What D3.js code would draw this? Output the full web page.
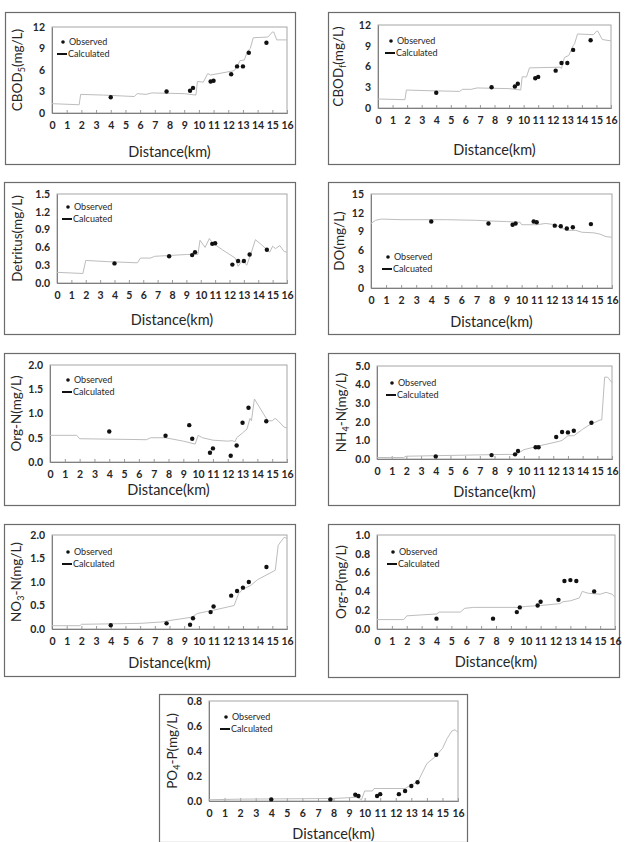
<!DOCTYPE html>
<html>
<head>
<meta charset="utf-8">
<script src="https://cdn.jsdelivr.net/npm/d3@7"></script>
<style>
  body { margin: 0; background: #fff; }
  svg { display: block; }
  text { font-family: Lato, "Open Sans", sans-serif; fill: #262626; }
</style>
</head>
<body>
<div id="fig"></div>
<script>
// Distancias de las estaciones observadas (km)
const OBS_X = [4.0, 7.8, 9.4, 9.6, 10.8, 11.0, 12.2, 12.6, 13.0, 13.4, 14.6];
const X_TICKS = d3.range(0, 17);

// Valores observados
const OBS_CBOD5 = [2.2, 3.0, 3.1, 3.5, 4.4, 4.5, 5.4, 6.5, 6.5, 8.4, 9.8];
const OBS_CBODF = [2.2, 3.0, 3.1, 3.5, 4.3, 4.5, 5.4, 6.5, 6.5, 8.4, 9.8];
const OBS_DETRITUS = [0.33, 0.45, 0.47, 0.52, 0.66, 0.67, 0.31, 0.37, 0.37, 0.48, 0.56];
const OBS_DO = [10.6, 10.3, 10.1, 10.3, 10.6, 10.5, 9.95, 9.85, 9.5, 9.7, 10.2];
const OBS_ORGN = [0.63, 0.54, 0.76, 0.48, 0.19, 0.28, 0.13, 0.34, 0.81, 1.12, 0.84];
const OBS_NH4 = [0.14, 0.21, 0.25, 0.43, 0.63, 0.63, 1.18, 1.45, 1.43, 1.52, 1.95];
const OBS_NO3 = [0.08, 0.12, 0.09, 0.23, 0.36, 0.48, 0.71, 0.81, 0.88, 1.0, 1.32];
const OBS_ORGP = [0.11, 0.11, 0.18, 0.23, 0.25, 0.29, 0.31, 0.51, 0.52, 0.51, 0.40];
const OBS_PO4 = [0.013, 0.013, 0.05, 0.04, 0.04, 0.055, 0.055, 0.08, 0.12, 0.15, 0.37];

// Valores calculados [distancia, valor]
const CALC_CBOD5 = [[0,1.3],[1.85,1.15],[1.95,2.6],[3.5,2.5],[5.6,2.3],[5.8,2.7],[6.4,2.6],[6.8,2.8],[9.0,2.7],[9.8,2.5],[9.9,4.4],[10.3,4.3],[10.6,5.5],[10.8,5.3],[12.4,5.9],[12.6,6.5],[12.8,7.3],[13.1,7.4],[13.3,8.6],[13.5,9.0],[13.7,10.5],[14.7,10.6],[15.0,11.3],[15.1,11.3],[15.3,10.2],[16,10.2]];
const CALC_CBODF = [[0,1.3],[1.85,1.2],[1.95,2.6],[3.5,2.5],[5.6,2.4],[5.8,2.7],[6.4,2.7],[6.8,2.9],[9.0,2.8],[9.8,2.6],[9.9,4.5],[10.2,4.5],[10.4,5.8],[12.5,5.9],[12.6,5.7],[12.8,7.3],[13.1,7.6],[13.4,9.0],[13.5,9.3],[13.7,10.7],[14.8,10.6],[15.0,11.1],[15.1,11.1],[15.4,9.9],[16,9.7]];
const CALC_DETRITUS = [[0,0.18],[1.8,0.16],[2.0,0.38],[3.5,0.36],[5.6,0.34],[5.8,0.42],[6.5,0.42],[6.8,0.45],[9.0,0.48],[9.8,0.48],[9.95,0.72],[10.3,0.6],[10.6,0.75],[10.8,0.68],[11.5,0.56],[12.4,0.42],[12.6,0.28],[12.8,0.35],[13.0,0.36],[13.2,0.3],[13.5,0.5],[13.8,0.73],[14.2,0.65],[14.8,0.52],[15.0,0.62],[15.2,0.58],[15.5,0.63],[15.8,0.53],[16,0.52]];
const CALC_DO = [[0,10.3],[0.3,10.8],[0.7,11.0],[2,10.9],[5,10.9],[7,10.8],[7.8,10.7],[9,10.6],[9.6,10.5],[9.9,10.5],[10.0,10.1],[11,10.1],[11.6,10.3],[12.2,10.1],[12.6,9.7],[12.8,9.4],[13.0,9.2],[13.6,9.2],[14,8.9],[14.8,8.8],[15.2,8.6],[15.6,8.2],[16,8.1]];
const CALC_ORGN = [[0,0.55],[1.8,0.55],[2.0,0.48],[6.5,0.46],[6.8,0.5],[7.8,0.5],[9.0,0.43],[9.8,0.37],[10.0,0.55],[10.3,0.5],[11,0.45],[12,0.43],[12.3,0.44],[12.5,0.42],[12.6,0.5],[13,0.6],[13.3,0.68],[13.5,0.9],[13.6,0.85],[13.8,1.3],[14.5,0.95],[14.7,0.85],[15,0.85],[15.2,0.9],[15.4,0.85],[15.8,0.72],[16,0.7]];
const CALC_NH4 = [[0,0.08],[1.8,0.08],[2.0,0.15],[9.0,0.25],[9.4,0.22],[9.8,0.4],[10,0.5],[11,0.7],[12.4,0.95],[12.6,1.0],[13,1.25],[13.4,1.25],[14,1.6],[14.5,1.85],[15.2,2.1],[15.3,2.1],[15.5,4.4],[15.7,4.4],[16,4.1]];
const CALC_NO3 = [[0,0.07],[1.9,0.07],[2.0,0.1],[6,0.12],[7.5,0.15],[8,0.18],[9.5,0.25],[9.9,0.33],[10.5,0.37],[11,0.4],[12.4,0.5],[12.7,0.75],[13,0.85],[13.5,0.92],[14,1.05],[15.2,1.25],[15.4,1.78],[15.8,1.95],[16,1.93]];
const CALC_ORGP = [[0,0.1],[1.8,0.1],[2,0.14],[3,0.15],[4,0.16],[4.2,0.18],[5.6,0.18],[5.9,0.22],[6.5,0.23],[9.5,0.23],[10,0.24],[11,0.25],[12.3,0.27],[12.5,0.29],[13,0.3],[13.6,0.33],[13.8,0.4],[14.2,0.38],[15,0.37],[15.4,0.39],[15.8,0.37],[16,0.34]];
const CALC_PO4 = [[0,0.01],[2,0.015],[8,0.02],[9.5,0.03],[9.8,0.01],[10,0.08],[10.5,0.08],[10.6,0.1],[11,0.1],[12.6,0.1],[13,0.13],[13.4,0.15],[13.6,0.2],[14,0.3],[14.5,0.35],[15,0.42],[15.3,0.5],[15.6,0.56],[15.8,0.57],[16,0.55]];

// Ticks del eje y
const Y_TICKS_CBOD = [0, 3, 6, 9, 12];
const Y_TICKS_DETRITUS = [0, 0.3, 0.6, 0.9, 1.2, 1.5];
const Y_TICKS_DO = [0, 3, 6, 9, 12, 15];
const Y_TICKS_N2 = [0, 0.5, 1.0, 1.5, 2.0];
const Y_TICKS_NH4 = [0, 1, 2, 3, 4, 5];
const Y_TICKS_ORGP = [0, 0.2, 0.4, 0.6, 0.8, 1.0];
const Y_TICKS_PO4 = [0, 0.2, 0.4, 0.6, 0.8];

// Etiquetas: [texto, subíndice, resto]
const PANELS = [
  { label: ["CBOD", "5", "(mg/L)"], obs: OBS_CBOD5, calc: CALC_CBOD5, ticks: Y_TICKS_CBOD, fmt: "d", calcName: "Calculated",
    box: [5, 12, 295, 164], plot: [52, 27, 287, 113], titleY: 152, labX: 17, leg: [63, 42] },
  { label: ["CBOD", "f", "(mg/L)"], obs: OBS_CBODF, calc: CALC_CBODF, ticks: Y_TICKS_CBOD, fmt: "d", calcName: "Calculated",
    box: [328, 12, 619, 164], plot: [378, 25, 611, 108], titleY: 150, labX: 338, leg: [391, 41] },
  { label: ["Detritus", "", "(mg/L)"], obs: OBS_DETRITUS, calc: CALC_DETRITUS, ticks: Y_TICKS_DETRITUS, fmt: ".1f", calcName: "Calcuated",
    box: [4, 182, 295, 334], plot: [57, 194, 287, 283], titleY: 320, labX: 17, leg: [68, 207] },
  { label: ["DO", "", "(mg/L)"], obs: OBS_DO, calc: CALC_DO, ticks: Y_TICKS_DO, fmt: "d", calcName: "Calcuated",
    box: [328, 182, 619, 334], plot: [371, 194, 612, 288], titleY: 322, labX: 339, leg: [388, 257] },
  { label: ["Org-N", "", "(mg/L)"], obs: OBS_ORGN, calc: CALC_ORGN, ticks: Y_TICKS_N2, fmt: ".1f", calcName: "Calculated",
    box: [4, 353, 295, 505], plot: [50, 365, 287, 462], titleY: 490, labX: 16, leg: [68, 380] },
  { label: ["NH", "4", "-N(mg/L)"], obs: OBS_NH4, calc: CALC_NH4, ticks: Y_TICKS_NH4, fmt: ".1f", calcName: "Calculated",
    box: [328, 353, 619, 505], plot: [377, 366, 612, 459], titleY: 492, labX: 341, leg: [392, 383] },
  { label: ["NO", "3", "-N(mg/L)"], obs: OBS_NO3, calc: CALC_NO3, ticks: Y_TICKS_N2, fmt: ".1f", calcName: "Calculated",
    box: [4, 524, 295, 676], plot: [52, 535, 287, 629], titleY: 663, labX: 16, leg: [68, 552] },
  { label: ["Org-P", "", "(mg/L)"], obs: OBS_ORGP, calc: CALC_ORGP, ticks: Y_TICKS_ORGP, fmt: ".1f", calcName: "Calculated",
    box: [328, 524, 619, 677], plot: [377, 535, 615, 629], titleY: 662, labX: 341, leg: [393, 552] },
  { label: ["PO", "4", "-P(mg/L)"], obs: OBS_PO4, calc: CALC_PO4, ticks: Y_TICKS_PO4, fmt: ".1f", calcName: "Calculated",
    box: [159, 694, 467, 842], plot: [209, 701, 458, 801], titleY: 834, labX: 172, leg: [226, 717] }
];

const W = 625, H = 842;
const svg = d3.select("#fig").append("svg").attr("width", W).attr("height", H);

function drawPanel(p) {
  const [bx0, by0, bx1, by1] = p.box;
  const [px0, py0, px1, py1] = p.plot;
  const g = svg.append("g");

  // Marco exterior
  g.append("rect")
    .attr("x", bx0 + 0.5).attr("y", by0 + 0.5)
    .attr("width", bx1 - bx0).attr("height", by1 - by0)
    .attr("fill", "none").attr("stroke", "#6b6b6b").attr("stroke-width", 1.2);

  const x = d3.scaleLinear().domain([0, 16]).range([px0, px1]);
  const y = d3.scaleLinear().domain([0, d3.max(p.ticks)]).range([py1, py0]);

  // Borde del área del gráfico
  g.append("rect")
    .attr("x", px0).attr("y", py0)
    .attr("width", px1 - px0).attr("height", py1 - py0)
    .attr("fill", "none").attr("stroke", "#a6a6a6").attr("stroke-width", 1);

  // Eje x
  const xAxis = g.append("g")
    .attr("transform", `translate(0,${py1})`)
    .call(d3.axisBottom(x).tickValues(X_TICKS).tickSize(-3).tickPadding(9).tickFormat(d3.format("d")));
  xAxis.select(".domain").attr("stroke", "#7f7f7f");
  xAxis.selectAll(".tick line").attr("stroke", "#9a9a9a");
  xAxis.selectAll("text").style("font-size", "10.5px").style("font-weight", "bold").attr("fill", "#262626");

  // Eje y
  const yAxis = g.append("g")
    .attr("transform", `translate(${px0},0)`)
    .call(d3.axisLeft(y).tickValues(p.ticks).tickSize(0).tickPadding(7).tickFormat(d3.format(p.fmt)));
  yAxis.select(".domain").attr("stroke", "#7f7f7f");
  yAxis.selectAll("text").style("font-size", "10.5px").style("font-weight", "bold").attr("fill", "#262626");

  // Línea calculada
  const line = d3.line().x(d => x(d[0])).y(d => y(d[1]));
  g.append("path")
    .datum(p.calc)
    .attr("d", line)
    .attr("fill", "none")
    .attr("stroke", "#bdbdbd")
    .attr("stroke-width", 1);

  // Puntos observados
  g.append("g")
    .selectAll("circle")
    .data(p.obs)
    .enter().append("circle")
    .attr("cx", (d, i) => x(OBS_X[i]))
    .attr("cy", d => y(d))
    .attr("r", 2.2)
    .attr("fill", "#111");

  // Título del eje x
  g.append("text")
    .attr("x", (px0 + px1) / 2)
    .attr("y", p.titleY)
    .attr("dy", "0.35em")
    .attr("text-anchor", "middle")
    .style("font-size", "14.5px")
    .text("Distance(km)");

  // Título del eje y (con subíndice)
  const yl = g.append("text")
    .attr("transform", `translate(${p.labX},${(py0 + py1) / 2}) rotate(-90)`)
    .attr("dy", "0.35em")
    .attr("text-anchor", "middle")
    .style("font-size", "13.5px");
  yl.append("tspan").text(p.label[0]);
  if (p.label[1]) {
    yl.append("tspan").attr("dy", "3").style("font-size", "9px").text(p.label[1]);
    yl.append("tspan").attr("dy", "-3").text(p.label[2]);
  } else {
    yl.append("tspan").text(p.label[2]);
  }

  // Leyenda
  const [lx, ly] = p.leg;
  g.append("circle").attr("cx", lx).attr("cy", ly).attr("r", 1.8).attr("fill", "#111");
  g.append("text").attr("x", lx + 6).attr("y", ly).attr("dy", "0.35em")
    .style("font-size", "9px").text("Observed");
  g.append("line")
    .attr("x1", lx - 6).attr("x2", lx + 4)
    .attr("y1", ly + 12).attr("y2", ly + 12)
    .attr("stroke", "#111").attr("stroke-width", 2);
  g.append("text").attr("x", lx + 5).attr("y", ly + 12).attr("dy", "0.35em")
    .style("font-size", "9px").text(p.calcName);
}

PANELS.forEach(drawPanel);
</script>
</body>
</html>
